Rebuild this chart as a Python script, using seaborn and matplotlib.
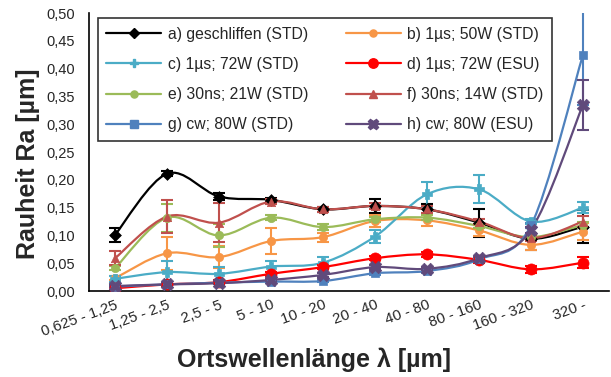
import numpy as np
import pandas as pd
import seaborn as sns
import matplotlib
matplotlib.use("Agg")
import matplotlib.pyplot as plt
from matplotlib.path import Path
from matplotlib.patches import PathPatch
from matplotlib.lines import Line2D
from matplotlib.ticker import FuncFormatter

categories = ["0,625 - 1,25", "1,25 - 2,5", "2,5 - 5", "5 - 10", "10 - 20",
              "20 - 40", "40 - 80", "80 - 160", "160 - 320", "320 -"]

series_names = ["a) geschliffen (STD)", "b) 1µs; 50W (STD)", "c) 1µs; 72W (STD)",
                "d) 1µs; 72W (ESU)", "e) 30ns; 21W (STD)", "f) 30ns; 14W (STD)",
                "g) cw; 80W (STD)", "h) cw; 80W (ESU)"]

a_vals = [0.101, 0.211, 0.170, 0.164, 0.147, 0.153, 0.147, 0.123, 0.094, 0.116]
a_err = [0.012, 0.005, 0.006, 0.004, 0.005, 0.012, 0.010, 0.025, 0.020, 0.030]
b_vals = [0.023, 0.068, 0.061, 0.090, 0.097, 0.126, 0.127, 0.109, 0.083, 0.107]
b_err = [0.004, 0.030, 0.020, 0.024, 0.008, 0.010, 0.010, 0.010, 0.010, 0.015]
c_vals = [0.022, 0.034, 0.031, 0.044, 0.051, 0.098, 0.174, 0.183, 0.125, 0.150]
c_err = [0.005, 0.020, 0.013, 0.010, 0.010, 0.012, 0.022, 0.025, 0.005, 0.010]
d_vals = [0.005, 0.012, 0.016, 0.031, 0.043, 0.059, 0.066, 0.056, 0.039, 0.051]
d_err = [0.003, 0.003, 0.003, 0.004, 0.004, 0.004, 0.004, 0.005, 0.006, 0.010]
e_vals = [0.041, 0.132, 0.100, 0.132, 0.115, 0.129, 0.132, 0.117, 0.097, 0.119]
e_err = [0.004, 0.025, 0.020, 0.004, 0.006, 0.004, 0.004, 0.004, 0.004, 0.006]
f_vals = [0.059, 0.134, 0.123, 0.161, 0.147, 0.153, 0.147, 0.125, 0.095, 0.125]
f_err = [0.013, 0.030, 0.035, 0.004, 0.004, 0.005, 0.006, 0.005, 0.005, 0.010]
g_vals = [0.008, 0.012, 0.015, 0.017, 0.018, 0.032, 0.036, 0.057, 0.118, 0.425]
g_err = [0.002, 0.002, 0.002, 0.002, 0.002, 0.003, 0.003, 0.003, 0.005, 0.090]
h_vals = [0.009, 0.012, 0.014, 0.020, 0.029, 0.043, 0.040, 0.059, 0.110, 0.335]
h_err = [0.002, 0.002, 0.002, 0.002, 0.003, 0.003, 0.003, 0.003, 0.005, 0.045]

y_ticks = [0.0, 0.05, 0.10, 0.15, 0.20, 0.25, 0.30, 0.35, 0.40, 0.45, 0.50]

values = [a_vals, b_vals, c_vals, d_vals, e_vals, f_vals, g_vals, h_vals]
errors = [a_err, b_err, c_err, d_err, e_err, f_err, g_err, h_err]
colors = ["#000000", "#F79646", "#4BACC6", "#FF0000", "#9BBB59", "#C0504D", "#4F81BD", "#604A7B"]
markers = ["D", "o", "P", "o", "o", "^", "s", "X"]
msizes = [6, 6, 7.5, 8, 6, 6, 6, 9]

rows = []
for name, vals, errs in zip(series_names, values, errors):
    for i, (v, e) in enumerate(zip(vals, errs)):
        rows.append({"series": name, "pos": i, "cat": categories[i], "Ra": v, "err": e})
df = pd.DataFrame(rows)

sns.set_theme(style="white")
plt.rcParams["font.family"] = ["Liberation Sans", "DejaVu Sans"]

fig = plt.figure(figsize=(6.11, 3.77), dpi=100)
ax = fig.add_axes([0.1457, 0.228, 0.851, 0.7375])


def smooth_path(xs, ys):
    pts = np.column_stack([xs, ys]).astype(float)
    n = len(pts)
    verts = [pts[0]]
    codes = [Path.MOVETO]
    for i in range(n - 1):
        p0 = pts[i - 1] if i > 0 else pts[i]
        p1 = pts[i]
        p2 = pts[i + 1]
        p3 = pts[i + 2] if i + 2 < n else pts[i + 1]
        c1 = p1 + (p2 - p0) / 6.0
        c2 = p2 - (p3 - p1) / 6.0
        verts += [c1, c2, p2]
        codes += [Path.CURVE4] * 3
    return Path(verts, codes)


handles = []
for k, name in enumerate(series_names):
    sub = df[df["series"] == name]
    col = colors[k]
    patch = PathPatch(smooth_path(sub["pos"].values, sub["Ra"].values), fill=False,
                      edgecolor=col, lw=1.6, zorder=2 + k * 0.1, clip_on=True)
    ax.add_patch(patch)
    ax.errorbar(sub["pos"], sub["Ra"], yerr=sub["err"], fmt="none", ecolor=col,
                elinewidth=1.5, capsize=4, capthick=1.5, zorder=2 + k * 0.1)
    sns.scatterplot(data=sub, x="pos", y="Ra", ax=ax, color=col, marker=markers[k],
                    s=msizes[k] ** 2, edgecolor=col, linewidth=0.5, zorder=3 + k * 0.1,
                    legend=False)
    handles.append(Line2D([0], [0], color=col, lw=1.6, marker=markers[k],
                          markersize=msizes[k] * 0.85, markeredgecolor=col))

ax.set_xlim(-0.5, 9.5)
ax.set_ylim(0, 0.5)
ax.set_yticks(y_ticks)
ax.yaxis.set_major_formatter(FuncFormatter(lambda v, p: f"{v:.2f}".replace(".", ",")))
ax.set_xticks(np.arange(-0.5, 10.0, 1.0))
ax.set_xticklabels([])
ax.set_xticks(np.arange(10), minor=True)
ax.set_xticklabels(categories, minor=True, rotation=20, ha="right",
                   rotation_mode="anchor", fontsize=10.8)
ax.tick_params(axis="x", which="minor", length=0, pad=5)
ax.tick_params(axis="x", which="major", length=5, width=1.2, direction="out", color="black")
ax.tick_params(axis="y", length=5, width=1.2, direction="out", color="black",
               labelsize=10.5, pad=5)
for s in ["top", "right"]:
    ax.spines[s].set_visible(False)
for s in ["left", "bottom"]:
    ax.spines[s].set_color("black")
    ax.spines[s].set_linewidth(1.2)
ax.set_xlabel("Ortswellenlänge λ [µm]", fontsize=18, fontweight="bold")
ax.set_ylabel("Rauheit Ra [µm]", fontsize=18, fontweight="bold")
ax.xaxis.set_label_coords(0.432, -0.248)
ax.xaxis.label.set_va("center")
ax.yaxis.set_label_coords(-0.117, 0.459)
ax.yaxis.label.set_va("center")

# row-wise legend order (a b / c d / e f / g h)
order = [0, 2, 4, 6, 1, 3, 5, 7]
leg = ax.legend([handles[i] for i in order], [series_names[i] for i in order], ncol=2,
                loc="upper left", bbox_to_anchor=(0.017, 0.982), borderaxespad=0,
                frameon=True, fancybox=False, edgecolor="black", fontsize=11.3,
                handlelength=3.5, columnspacing=2.4, labelspacing=0.97,
                borderpad=0.55, handletextpad=0.4)
leg.get_frame().set_linewidth(1.2)
leg.set_zorder(10)

fig.savefig("out.png", dpi=100)
